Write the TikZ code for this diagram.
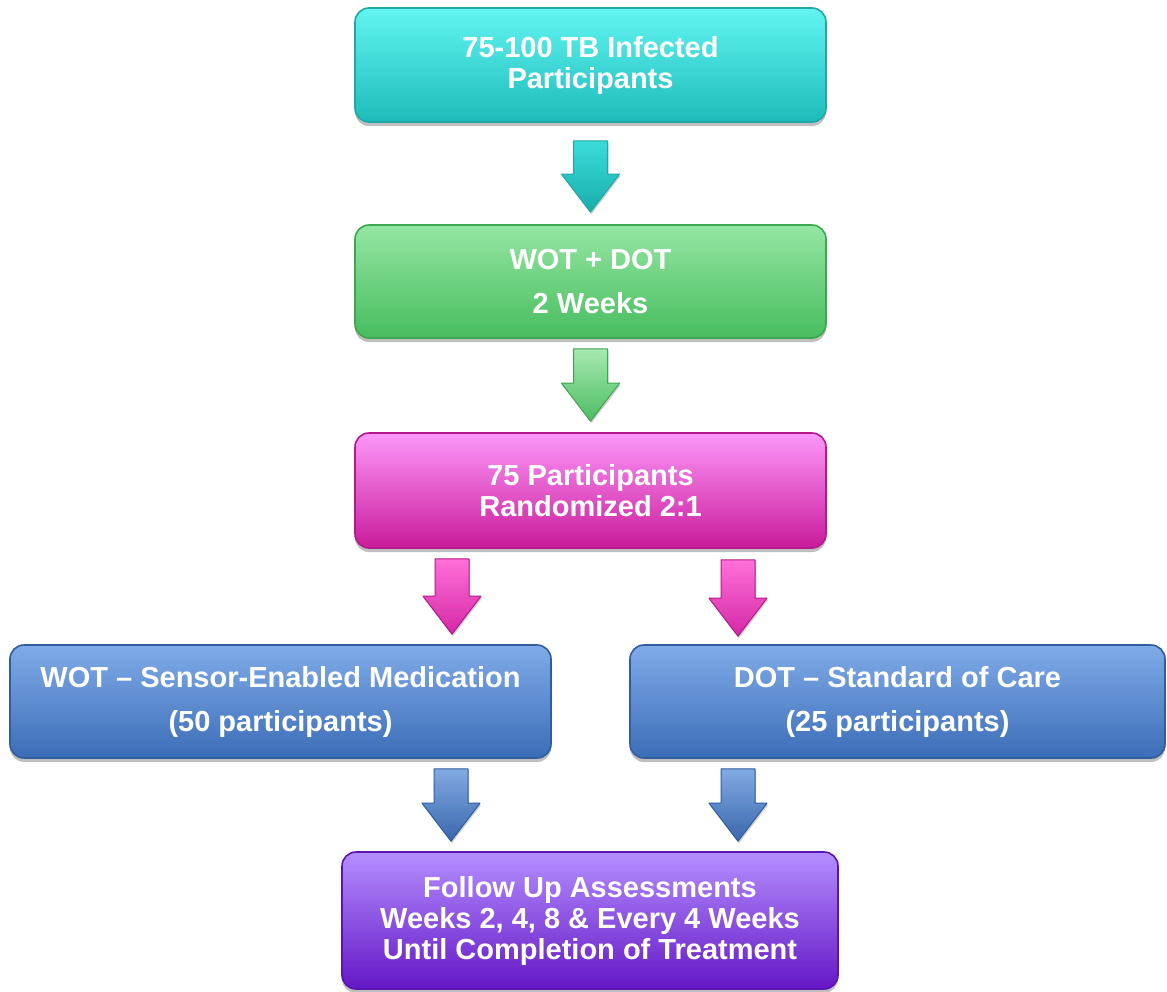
\documentclass[tikz,border=0pt]{standalone}
\usepackage{fontspec}
\setmainfont{Liberation Sans}
\usetikzlibrary{calc,shadows}
\definecolor{tealT}{HTML}{62F5F2}\definecolor{tealB}{HTML}{1DBCBA}\definecolor{tealD}{HTML}{1FA8A6}
\definecolor{tealAT}{HTML}{3ADCDA}\definecolor{tealAB}{HTML}{18AEAC}
\definecolor{grnT}{HTML}{95E6A3}\definecolor{grnB}{HTML}{47BD5E}\definecolor{grnD}{HTML}{3DA651}
\definecolor{grnAT}{HTML}{A6E9B1}\definecolor{grnAB}{HTML}{4DBD62}
\definecolor{magT}{HTML}{FC97F9}\definecolor{magB}{HTML}{CA1B9B}\definecolor{magD}{HTML}{B4188A}
\definecolor{magAT}{HTML}{FF70D8}\definecolor{magAB}{HTML}{D428A6}
\definecolor{bluT}{HTML}{80ABE8}\definecolor{bluB}{HTML}{3B6DB7}\definecolor{bluD}{HTML}{2F5D9E}
\definecolor{bluAT}{HTML}{82AAE2}\definecolor{bluAB}{HTML}{3A67AD}
\definecolor{purT}{HTML}{B48EFF}\definecolor{purB}{HTML}{6417C5}\definecolor{purD}{HTML}{5A14AF}
\tikzset{
  box/.style={rounded corners=14pt, line width=1.6pt, inner sep=0pt, align=center,
    text=white, font=\fontsize{29}{31}\selectfont\bfseries,
    drop shadow={shadow xshift=0pt, shadow yshift=-4pt, opacity=0.25, fill=black}},
  wide/.style={font=\fontsize{29}{44}\selectfont\bfseries}
}
% #1 start (x and y used), #2 tip (y used), #3 top colour, #4 bottom colour, #5 border
\newcommand\blkarrow[5]{%
  \path[draw=#5, line width=1pt, line join=round, top color=#3, bottom color=#4,
        drop shadow={shadow xshift=1pt, shadow yshift=-2pt, opacity=0.18, fill=black}]
    let \p1=#1, \p2=#2 in
    (\x1-17pt,\y1) -- (\x1+17pt,\y1) -- (\x1+17pt,\y2+38pt) -- (\x1+29pt,\y2+38pt)
    -- (\x1,\y2) -- (\x1-29pt,\y2+38pt) -- (\x1-17pt,\y2+38pt) -- cycle;}
\begin{document}
\begin{tikzpicture}[x=1pt,y=-1pt]
\useasboundingbox[fill=white] (0,0) rectangle (1167,991);
\node[box, draw=tealD, top color=tealT, bottom color=tealB, minimum width=471pt, minimum height=114pt]
  (b1) at (590.5,65) {75-100 TB Infected\\Participants};
\node[box, wide, draw=grnD, top color=grnT, bottom color=grnB, minimum width=471pt, minimum height=113pt]
  (b2) at (590.5,281.5) {WOT + DOT\\2 Weeks};
\node[box, draw=magD, top color=magT, bottom color=magB, minimum width=471pt, minimum height=115pt]
  (b3) at (590.5,490.5) {75 Participants\\Randomized 2:1};
\node[box, wide, draw=bluD, top color=bluT, bottom color=bluB, minimum width=541pt, minimum height=113pt]
  (b4l) at (280.5,701.5) {WOT – Sensor-Enabled Medication\\(50 participants)};
\node[box, wide, draw=bluD, top color=bluT, bottom color=bluB, minimum width=535pt, minimum height=113pt]
  (b4r) at (897.5,701.5) {DOT – Standard of Care\\(25 participants)};
\node[box, draw=purD, top color=purT, bottom color=purB, minimum width=496pt, minimum height=137pt]
  (b5) at (590,920.5) {Follow Up Assessments\\Weeks 2, 4, 8 \& Every 4 Weeks\\Until Completion of Treatment};
\blkarrow{($(b1.south)+(0,18)$)}{($(b2.north)+(0,-12)$)}{tealAT}{tealAB}{tealD}
\blkarrow{($(b2.south)+(0,10)$)}{($(b3.north)+(0,-11)$)}{grnAT}{grnAB}{grnD}
\blkarrow{($(b3.south)+(-138.5,10)$)}{($(b4l.north)+(0,-10)$)}{magAT}{magAB}{magD}
\blkarrow{($(b3.south)+(147.5,11)$)}{($(b4r.north)+(0,-8)$)}{magAT}{magAB}{magD}
\blkarrow{($(b4l.south)+(170.5,10)$)}{($(b5.north)+(0,-10)$)}{bluAT}{bluAB}{bluD}
\blkarrow{($(b4r.south)+(-159.5,10)$)}{($(b5.north)+(0,-10)$)}{bluAT}{bluAB}{bluD}
\end{tikzpicture}
\end{document}
